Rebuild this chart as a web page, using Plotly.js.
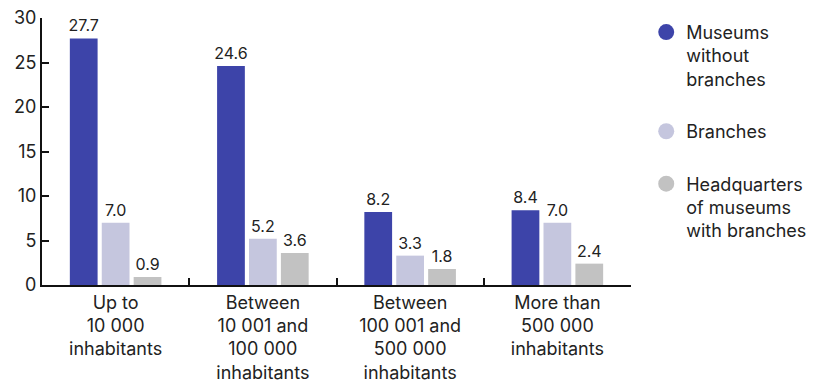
<!DOCTYPE html>
<html>
<head>
<meta charset="utf-8">
<script src="https://cdn.plot.ly/plotly-3.0.1.min.js"></script>
<style>html,body{margin:0;padding:0;background:#fff;}#chart{width:818px;height:385px;}</style>
</head>
<body>
<div id="chart"></div>
<script>
var categories = ["Up to<br>10 000<br>inhabitants", "Between<br>10 001 and<br>100 000<br>inhabitants", "Between<br>100 001 and<br>500 000<br>inhabitants", "More than<br>500 000<br>inhabitants"];
var seriesNames = ["Museums<br>without<br>branches", "Branches", "Headquarters<br>of museums<br>with branches"];
var museumsWithoutBranches = [27.7, 24.6, 8.2, 8.4];
var branches = [7.0, 5.2, 3.3, 7.0];
var headquarters = [0.9, 3.6, 1.8, 2.4];
var colors = ["#3d44a9", "#c5c6de", "#c2c2c2"];
var yTicks = [0, 5, 10, 15, 20, 25, 30];

var values = [museumsWithoutBranches, branches, headquarters];
var traces = [];
values.forEach(function(v, i) {
  traces.push({
    type: "bar",
    x: categories,
    y: v,
    name: seriesNames[i],
    marker: {color: colors[i]},
    text: v.map(function(d){return d.toFixed(1);}),
    textposition: "outside",
    constraintext: "none",
    textfont: {size: 16, color: "#222"},
    cliponaxis: false,
    showlegend: false,
    hoverinfo: "x+y"
  });
});
values.forEach(function(v, i) {
  traces.push({
    type: "scatter",
    mode: "markers",
    x: [null],
    y: [null],
    name: seriesNames[i],
    legendgroup: "g" + i,
    marker: {color: colors[i], size: 18, symbol: "circle"},
    showlegend: true
  });
});

var layout = {
  width: 818,
  height: 385,
  margin: {l: 42, r: 187, t: 18, b: 100},
  paper_bgcolor: "#fff",
  plot_bgcolor: "#fff",
  font: {family: "Inter, 'Noto Sans', sans-serif", color: "#222", size: 18},
  barmode: "group",
  bargap: 0.35,
  bargroupgap: 0.13,
  xaxis: {
    type: "category",
    showline: true,
    linecolor: "#111",
    linewidth: 2,
    ticks: "inside",
    tickson: "boundaries",
    ticklen: 7,
    tickwidth: 2,
    tickcolor: "#111",
    showgrid: false,
    zeroline: false,
    tickfont: {size: 18, color: "#222"},
    fixedrange: true
  },
  yaxis: {
    range: [0, 30],
    tickvals: yTicks,
    showline: true,
    linecolor: "#111",
    linewidth: 2,
    ticks: "inside",
    ticklen: 7,
    tickwidth: 2,
    tickcolor: "#111",
    showgrid: false,
    zeroline: false,
    tickfont: {size: 18, color: "#222"},
    fixedrange: true
  },
  showlegend: true,
  legend: {
    xref: "container",
    x: 0.79,
    xanchor: "left",
    yref: "container",
    y: 0.964,
    yanchor: "top",
    traceorder: "grouped",
    tracegroupgap: 26,
    valign: "top",
    itemwidth: 30,
    maxheight: 1,
    font: {size: 18, color: "#222"},
    bgcolor: "rgba(0,0,0,0)"
  }
};

Plotly.newPlot("chart", traces, layout, {displayModeBar: false, staticPlot: true});
</script>
</body>
</html>
